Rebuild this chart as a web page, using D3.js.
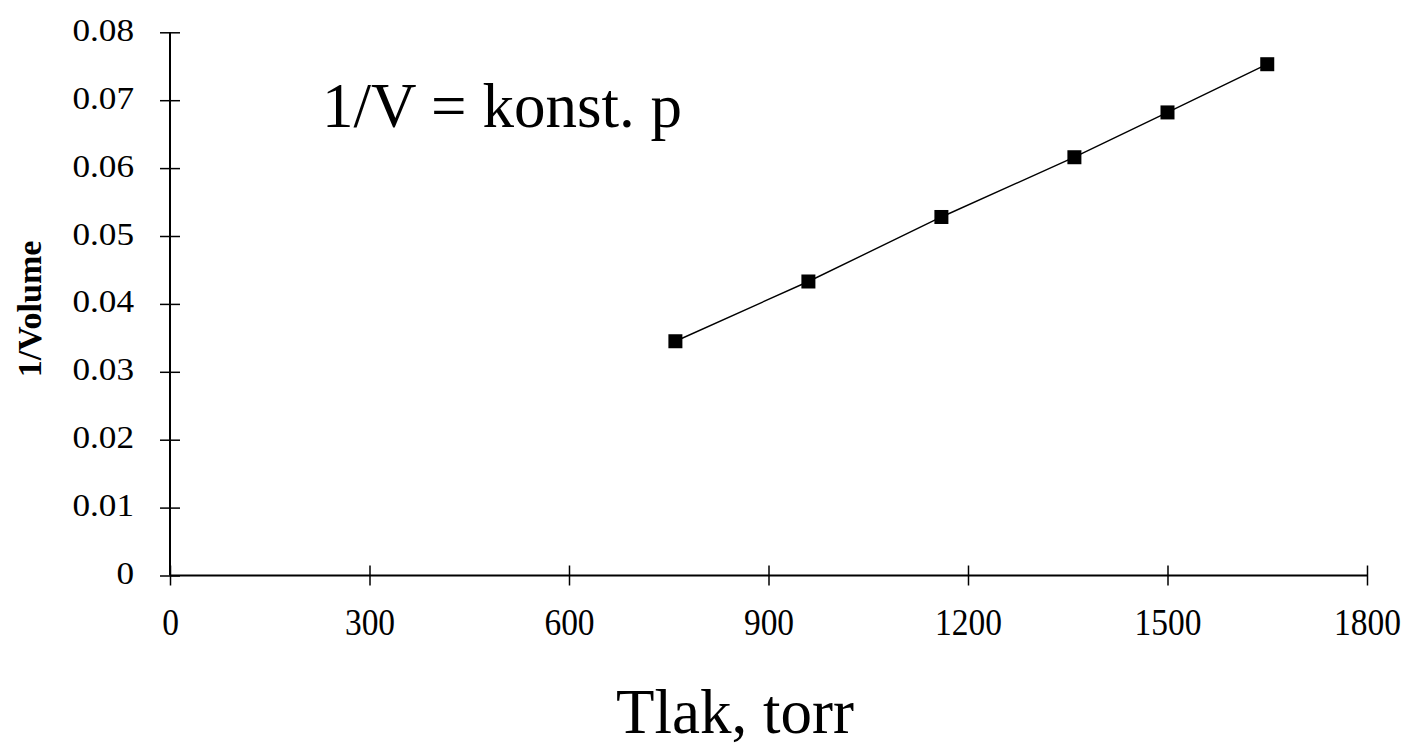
<!DOCTYPE html>
<html>
<head>
<meta charset="utf-8">
<script src="https://cdn.jsdelivr.net/npm/d3@7"></script>
<style>
  html, body { margin: 0; padding: 0; background: #ffffff; }
  svg { display: block; }
  text { font-family: "Liberation Serif", "Times New Roman", serif; fill: #000; }
</style>
</head>
<body>
<svg id="chart" width="1411" height="747"></svg>
<script>
// Boyle's law measurements: pressure (torr) vs reciprocal volume
const pressure = [760, 960, 1160, 1360, 1500, 1650];
const invVolume = [0.0345, 0.0433, 0.0528, 0.0616, 0.0682, 0.0753];

const xTicks = [0, 300, 600, 900, 1200, 1500, 1800];
const yTicks = [0, 0.01, 0.02, 0.03, 0.04, 0.05, 0.06, 0.07, 0.08];

const xTitle = "Tlak, torr";
const yTitle = "1/Volume";
const relation = "1/V = konst. p";

const svg = d3.select("#chart");

const x = d3.scaleLinear().domain([0, 1800]).range([170, 1367]);
const y = d3.scaleLinear().domain([0, 0.08]).range([575.5, 32.3]);

// x axis with ticks crossing the line
const gx = svg.append("g")
  .attr("transform", `translate(0,${y(0)})`)
  .call(d3.axisBottom(x).tickValues(xTicks).tickSize(10).tickFormat(d3.format("d")));
gx.select(".domain").attr("d", `M${x(0)},0H${x(1800)}`).attr("stroke", "#000").attr("stroke-width", 2);
gx.selectAll(".tick line").attr("y1", -10).attr("y2", 10).attr("stroke", "#000").attr("stroke-width", 1.5);
gx.selectAll(".tick text")
  .attr("y", 0).attr("dy", null)
  .attr("transform", "translate(0,59) scale(0.93,1.08)")
  .style("font-size", "36px")
  .style("font-family", "Liberation Serif, serif")
  .attr("fill", "#000");

// y axis with ticks crossing the line
const gy = svg.append("g")
  .attr("transform", `translate(${x(0)},0)`)
  .call(d3.axisLeft(y).tickValues(yTicks).tickSize(10)
    .tickFormat(d => d === 0 ? "0" : d3.format(".2f")(d)));
gy.select(".domain").attr("d", `M0,${y(0)}V${y(0.08)}`).attr("stroke", "#000").attr("stroke-width", 2);
gy.selectAll(".tick line").attr("x1", -10).attr("x2", 10).attr("stroke", "#000").attr("stroke-width", 1.5);
gy.selectAll(".tick text")
  .attr("x", 0).attr("dy", null)
  .attr("text-anchor", "end")
  .attr("transform", "translate(-36,8) scale(1.1,1)")
  .style("font-size", "32px")
  .style("font-family", "Liberation Serif, serif")
  .attr("fill", "#000");

// data line
const line = d3.line().x((d, i) => x(pressure[i])).y(d => y(d));
svg.append("path")
  .datum(invVolume)
  .attr("d", line)
  .attr("fill", "none")
  .attr("stroke", "#000")
  .attr("stroke-width", 1.4);

// square markers
const s = 14;
svg.append("g").selectAll("rect")
  .data(invVolume)
  .join("rect")
  .attr("x", (d, i) => x(pressure[i]) - s / 2)
  .attr("y", d => y(d) - s / 2)
  .attr("width", s)
  .attr("height", s)
  .attr("fill", "#000");

// relation label inside the plot
svg.append("text")
  .attr("x", 322)
  .attr("y", 127)
  .style("font-size", "63px")
  .text(relation);

// y axis title
svg.append("text")
  .attr("transform", "translate(41,309) rotate(-90)")
  .attr("text-anchor", "middle")
  .style("font-size", "34px")
  .style("font-weight", "bold")
  .text(yTitle);

// x axis title
svg.append("text")
  .attr("x", 735)
  .attr("y", 733)
  .attr("text-anchor", "middle")
  .style("font-size", "63px")
  .text(xTitle);
</script>
</body>
</html>
